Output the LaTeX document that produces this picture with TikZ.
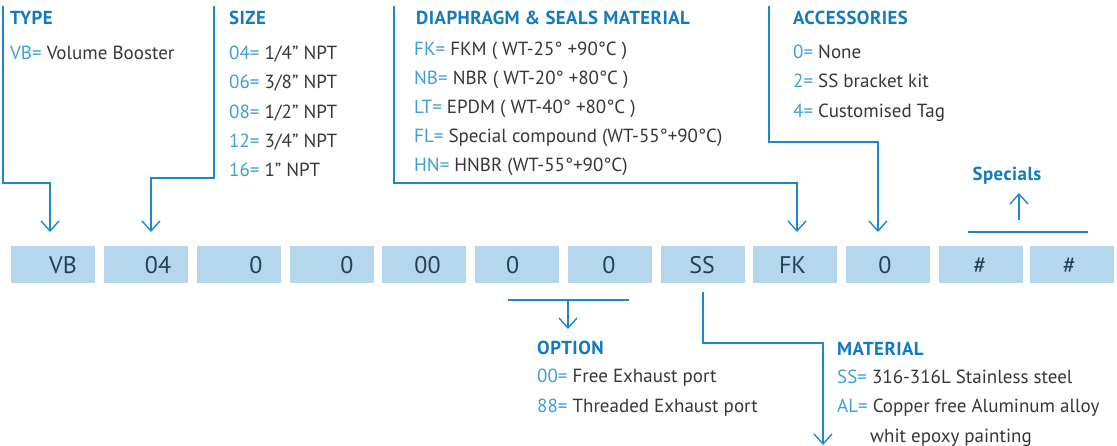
\documentclass[tikz,border=0pt]{standalone}
\usepackage{fontspec}
\setmainfont{PT Sans}
\usetikzlibrary{arrows.meta}
\definecolor{lineblue}{RGB}{30,136,206}
\definecolor{titleblue}{RGB}{18,122,194}
\definecolor{codeblue}{RGB}{62,158,218}
\definecolor{txtgray}{RGB}{55,55,55}
\definecolor{boxfill}{RGB}{181,215,236}
\definecolor{boxtext}{RGB}{36,64,88}
\newcommand\cd[1]{\textcolor{codeblue}{#1}}
\tikzset{
  ttl/.style={anchor=base west, inner sep=0pt, font=\fontsize{18.8}{20}\selectfont\bfseries\addfontfeatures{LetterSpace=2.5}, text=titleblue},
  itm/.style={anchor=base west, inner sep=0pt, font=\fontsize{19}{20}\selectfont, text=txtgray},
  codebox/.style={fill=boxfill, draw=none, minimum width=84pt, minimum height=37pt, inner sep=0pt, anchor=north west},
  boxlbl/.style={anchor=base, inner sep=0pt, font=\fontsize{24}{26}\selectfont, text=boxtext},
  conn/.style={draw=lineblue, line width=1.4pt},
  arr/.style={conn, -{Straight Barb[length=10pt,width=18pt,line width=1.4pt]}}
}
\begin{document}
\begin{tikzpicture}[x=1pt,y=-1pt]
\useasboundingbox (0,0) rectangle (1117,446);

% boxes
\foreach \i/\x in {1/11,2/104,3/197,4/290,5/382,6/475,7/568,8/660.5,9/753,10/846,11/939,12/1030}
  \node[codebox] (b\i) at (\x,246) {};
\node[boxlbl] (l1) at (63,273.7) {VB};
\node[boxlbl] (l2) at (158,273.7) {04};
\node[boxlbl] (l3) at (256,273.7) {0};
\node[boxlbl] (l4) at (347,273.7) {0};
\node[boxlbl] (l5) at (427.5,273.7) {00};
\node[boxlbl] (l6) at (512.6,273.7) {0};
\node[boxlbl] (l7) at (609,273.7) {0};
\node[boxlbl] (l8) at (702,273.7) {SS};
\node[boxlbl] (l9) at (792.6,273.7) {FK};
\node[boxlbl] (l10) at (885,273.7) {0};
\node[boxlbl] (l11) at (980,273.7) {\#};
\node[boxlbl] (l12) at (1069.5,273.7) {\#};

% TYPE
\node[ttl] (ttype) at (10,25) {TYPE};
\node[itm] (ivb) at (10,60) {\cd{VB=} Volume Booster};

% SIZE
\node[ttl] (tsize) at (229,25) {SIZE};
\node[itm] (s1) at (229,60) {\cd{04=} 1/4" NPT};
\node[itm] (s2) at (229,89) {\cd{06=} 3/8" NPT};
\node[itm] (s3) at (229,119) {\cd{08=} 1/2" NPT};
\node[itm] (s4) at (229,148) {\cd{12=} 3/4" NPT};
\node[itm] (s5) at (229,177) {\cd{16=} 1" NPT};

% DIAPHRAGM
\node[ttl] (tdia) at (416,25) {DIAPHRAGM \& SEALS MATERIAL};
\node[itm] (d1) at (414,55.7) {\cd{FK=} FKM ( WT-25° +90°C )};
\node[itm] (d2) at (414,84.5) {\cd{NB=} NBR ( WT-20° +80°C )};
\node[itm] (d3) at (414,113.5) {\cd{LT=} EPDM ( WT-40° +80°C )};
\node[itm] (d4) at (414,143) {\cd{FL=} Special compound (WT-55°+90°C)};
\node[itm] (d5) at (414,172) {\cd{HN=} HNBR (WT-55°+90°C)};

% ACCESSORIES
\node[ttl] (tacc) at (793,25) {ACCESSORIES};
\node[itm] (a1) at (793,59) {\cd{0=} None};
\node[itm] (a2) at (793,88) {\cd{2=} SS bracket kit};
\node[itm] (a3) at (793,118) {\cd{4=} Customised Tag};

% Specials
\node[ttl, anchor=base] (tspec) at (1007,181) {Specials};

% OPTION
\node[ttl] (topt) at (537,355) {OPTION};
\node[itm] (o1) at (537,383) {\cd{00=} Free Exhaust port};
\node[itm] (o2) at (537,412) {\cd{88=} Threaded Exhaust port};

% MATERIAL
\node[ttl] (tmat) at (837,355.5) {MATERIAL};
\node[itm] (m1) at (837,384) {\cd{SS=} 316-316L Stainless steel};
\node[itm] (m2) at (837,413) {\cd{AL=} Copper free Aluminum alloy};
\node[itm] (m3) at (870,442) {whit epoxy painting};

% connectors
\coordinate (cT0) at (3,6);   \coordinate (cT1) at (50,232);
\draw[arr] (cT0) |- (50,183) -- (cT1);
\coordinate (cS0) at (214,6); \coordinate (cS1) at (151,232);
\draw[arr] (cS0) |- (151,178) -- (cS1);
\coordinate (cD0) at (394,6); \coordinate (cD1) at (797,232);
\draw[arr] (cD0) |- (797,183) -- (cD1);
\coordinate (cA0) at (769,6); \coordinate (cA1) at (878,232);
\draw[arr] (cA0) |- (878,142) -- (cA1);

\coordinate (sp0) at (968,232); \coordinate (sp1) at (1088,232);
\draw[conn] (sp0) -- (sp1);
\coordinate (spa) at (1019,220); \coordinate (spb) at (1019,193);
\draw[arr] (spa) -- (spb);

\coordinate (op0) at (508,300); \coordinate (op1) at (629,300);
\draw[conn] (op0) -- (op1);
\coordinate (opa) at (568,300); \coordinate (opb) at (568,329);
\draw[arr] (opa) -- (opb);

\coordinate (ss0) at (703,292); \coordinate (ss1) at (823,445);
\draw[arr] (ss0) |- (823,343) -- (ss1);
\end{tikzpicture}
\end{document}
